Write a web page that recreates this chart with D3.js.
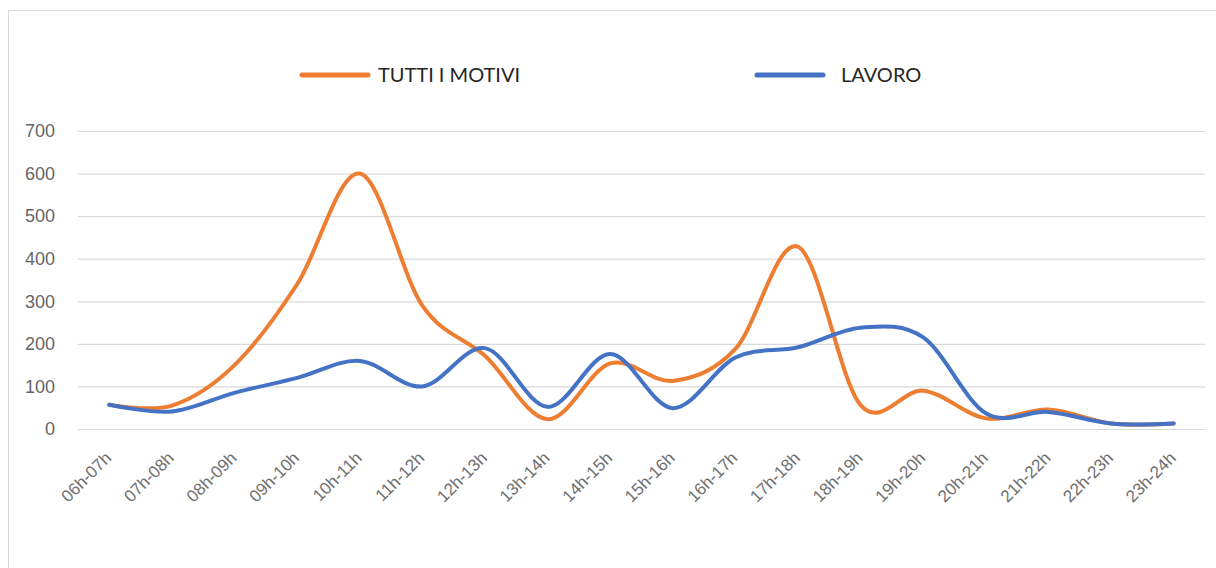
<!DOCTYPE html>
<html>
<head>
<meta charset="utf-8">
<script src="https://cdn.jsdelivr.net/npm/d3@7"></script>
<style>
  html, body { margin: 0; padding: 0; background: #fff; }
  svg { display: block; font-family: Lato, 'Liberation Sans', Arial, sans-serif; }
</style>
</head>
<body>
<svg id="chart" width="1216" height="568"></svg>
<script>
const hours = ['06h-07h', '07h-08h', '08h-09h', '09h-10h', '10h-11h', '11h-12h', '12h-13h', '13h-14h', '14h-15h',
  '15h-16h', '16h-17h', '17h-18h', '18h-19h', '19h-20h', '20h-21h', '21h-22h', '22h-23h', '23h-24h'];
const tuttiMotivi = [57, 55, 150, 340, 600, 290, 172, 23, 154, 113, 188, 428, 56, 90, 25, 46, 13, 13];
const lavoro = [57, 41, 85, 120, 160, 100, 190, 52, 176, 49, 168, 192, 238, 215, 37, 40, 13, 13];
const yTicks = [0, 100, 200, 300, 400, 500, 600, 700];

const series = [
  { name: 'TUTTI I MOTIVI', values: tuttiMotivi, color: '#ed7d31' },
  { name: 'LAVORO', values: lavoro, color: '#4472c4' }
];

const w = 1216;
const h = 568;
const margin = { top: 131, right: 11, bottom: 139, left: 78 };

const svg = d3.select('#chart');

// chart frame
svg.append('path')
  .attr('d', `M8.5,${h}V10.5H${w}`)
  .attr('fill', 'none')
  .attr('stroke', '#d9d9d9')
  .attr('stroke-width', 1);

const xScale = d3.scaleBand()
  .domain(hours)
  .range([margin.left, w - margin.right]);
const yScale = d3.scaleLinear()
  .domain([0, 700])
  .range([h - margin.bottom, margin.top]);

// gridlines + y labels
const yAxis = svg.append('g')
  .attr('class', 'y-axis')
  .attr('transform', `translate(${margin.left}, 0)`)
  .call(d3.axisLeft(yScale)
    .tickValues(yTicks)
    .tickSize(-(w - margin.left - margin.right))
    .tickPadding(23));
yAxis.select('.domain').remove();
yAxis.selectAll('line')
  .attr('stroke', '#d9d9d9')
  .attr('stroke-width', 1.2);
yAxis.selectAll('text')
  .attr('fill', '#666')
  .style('font-size', '18px');

// x labels
const xAxis = svg.append('g')
  .attr('class', 'x-axis')
  .attr('transform', `translate(0, ${h - margin.bottom})`)
  .call(d3.axisBottom(xScale).tickSize(0));
xAxis.select('.domain').remove();
xAxis.selectAll('text')
  .attr('fill', '#6f6f6f')
  .style('font-size', '17px')
  .attr('text-anchor', 'end')
  .attr('dy', 0)
  .attr('transform', 'translate(1, 28) rotate(-45)');

// lines
const line = d3.line()
  .x((d, i) => xScale(hours[i]) + xScale.bandwidth() / 2)
  .y(d => yScale(d))
  .curve(d3.curveCardinal.tension(0));

svg.selectAll('.series')
  .data(series)
  .enter()
  .append('path')
  .attr('class', 'series')
  .attr('d', d => line(d.values))
  .attr('fill', 'none')
  .attr('stroke', d => d.color)
  .attr('stroke-width', 4)
  .attr('stroke-linecap', 'round')
  .attr('stroke-linejoin', 'round');

// legend
const legendPos = [{ x: 302, tx: 378 }, { x: 757, tx: 841 }];
const legend = svg.append('g').attr('class', 'legend');
legend.selectAll('line')
  .data(series)
  .enter()
  .append('line')
  .attr('x1', (d, i) => legendPos[i].x)
  .attr('x2', (d, i) => legendPos[i].x + 66)
  .attr('y1', 75)
  .attr('y2', 75)
  .attr('stroke', d => d.color)
  .attr('stroke-width', 5)
  .attr('stroke-linecap', 'round');
legend.selectAll('text')
  .data(series)
  .enter()
  .append('text')
  .attr('x', (d, i) => legendPos[i].tx)
  .attr('y', 82)
  .attr('fill', '#262626')
  .style('font-size', '20px')
  .text(d => d.name);
</script>
</body>
</html>
